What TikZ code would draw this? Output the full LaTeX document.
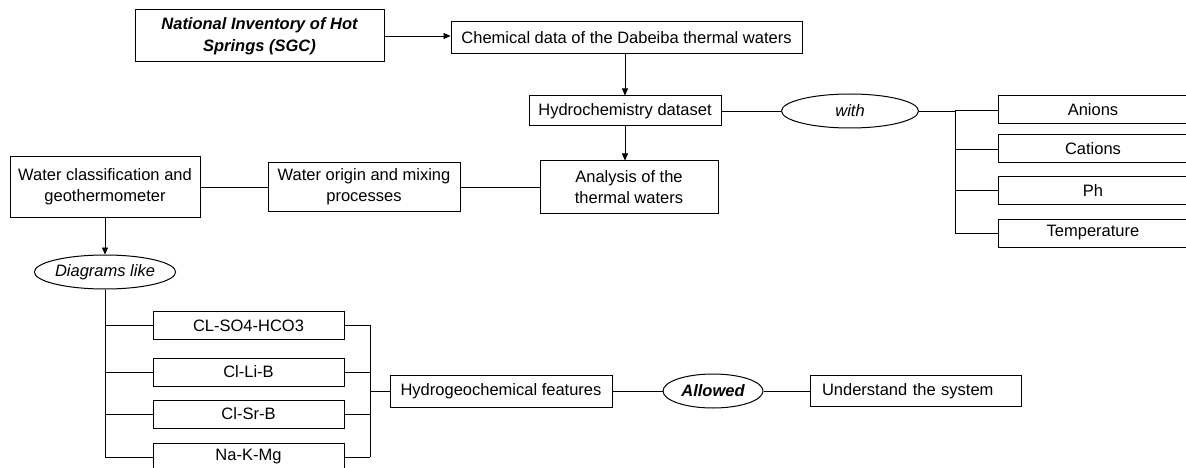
\documentclass[tikz,border=0pt]{standalone}
\usepackage{fontspec}
\setmainfont{Liberation Sans}
\usetikzlibrary{shapes.geometric,arrows.meta}

\begin{document}
\begin{tikzpicture}[x=1pt,y=-1pt,
  box/.style={draw, line width=1pt, inner sep=0pt, align=center, font=\fontsize{16.5}{21}\selectfont},
  oval/.style={draw, ellipse, line width=1pt, inner sep=0pt, font=\fontsize{16.5}{21}\selectfont\itshape},
  link/.style={line width=0.9pt},
  flow/.style={line width=0.7pt, -{Triangle[length=7pt,width=6pt]}}]
\useasboundingbox (0,0) rectangle (1186,468);
\clip (0,0) rectangle (1186,468);

% source and data
\node[box, minimum width=249pt, minimum height=52pt, font=\fontsize{16.5}{22}\selectfont\bfseries\itshape] (inventory) at (259.5,36) {National Inventory of Hot\\Springs (SGC)};
\node[box, minimum width=351pt, minimum height=32pt] (chemdata) at (626.5,38) {Chemical data of the Dabeiba thermal waters};
\node[box, minimum width=192pt, minimum height=30pt] (dataset) at (625,111) {Hydrochemistry dataset};
\node[oval, minimum width=137pt, minimum height=34pt] (with) at (850,111) {with};
\node[box, minimum width=178pt, minimum height=52pt] (analysis) at (629,187) {Analysis of the\\thermal waters};
\node[box, minimum width=192pt, minimum height=48pt] (origin) at (364,187) {Water origin and mixing\\processes};
\node[box, minimum width=190pt, minimum height=60pt] (classif) at (105,187) {Water classification and\\geothermometer};

\draw[flow] (inventory.east) -- (chemdata.west |- inventory.east);
\draw[flow] (chemdata.south -| dataset.north) -- (dataset.north);
\draw[flow] (dataset.south) -- (analysis.north -| dataset.south);
\draw[link] (dataset.east) -- (with.west);
\draw[link] (analysis.west) -- (origin.east);
\draw[link] (origin.west) -- (classif.east);

% parameters
\coordinate (parbus) at (955,111);
\draw[link] (with.east) -- (parbus);
\foreach \name/\txt/\y in {anions/Anions/110, cations/Cations/149, ph/Ph/190.5, temp/Temperature/233}{
  \node[box, minimum width=190pt, minimum height=28pt] (\name) at (1093,\y) {\txt};
  \draw[link] (parbus |- \name.west) -- (\name.west);
}
\draw[link] (parbus) -- (parbus |- temp.west);

% diagrams
\node[oval, minimum width=137pt, minimum height=34pt] (diagrams) at (105,272) {Diagrams like};
\draw[flow] (classif.south) -- (diagrams.north);
\coordinate (diagbus) at (370,325);
\foreach \name/\txt/\y in {clso/CL-SO4-HCO3/325.5, cllib/Cl-Li-B/372, clsrb/Cl-Sr-B/414, nakmg/Na-K-Mg/457}{
  \node[box, minimum width=191pt, minimum height=28pt] (\name) at (248.5,\y) {\txt};
  \draw[link] (diagrams.south |- \name.west) -- (\name.west);
  \draw[link] (\name.east) -- (diagbus |- \name.east);
}
\draw[link] (diagrams.south) -- (diagrams.south |- nakmg.west);
\draw[link] (diagbus) -- (diagbus |- nakmg.east);

% results
\node[box, minimum width=222pt, minimum height=32pt] (features) at (501,391) {Hydrogeochemical features};
\node[oval, minimum width=100pt, minimum height=34pt, font=\fontsize{16.5}{21}\selectfont\bfseries\itshape] (allowed) at (713,391) {Allowed};
\node[box, minimum width=211pt, minimum height=31pt, text width=187pt, align=left] (system) at (915.5,391) {Understand the system};
\draw[link] (diagbus |- features.west) -- (features.west);
\draw[link] (features.east) -- (allowed.west);
\draw[link] (allowed.east) -- (system.west);
\end{tikzpicture}
\end{document}
